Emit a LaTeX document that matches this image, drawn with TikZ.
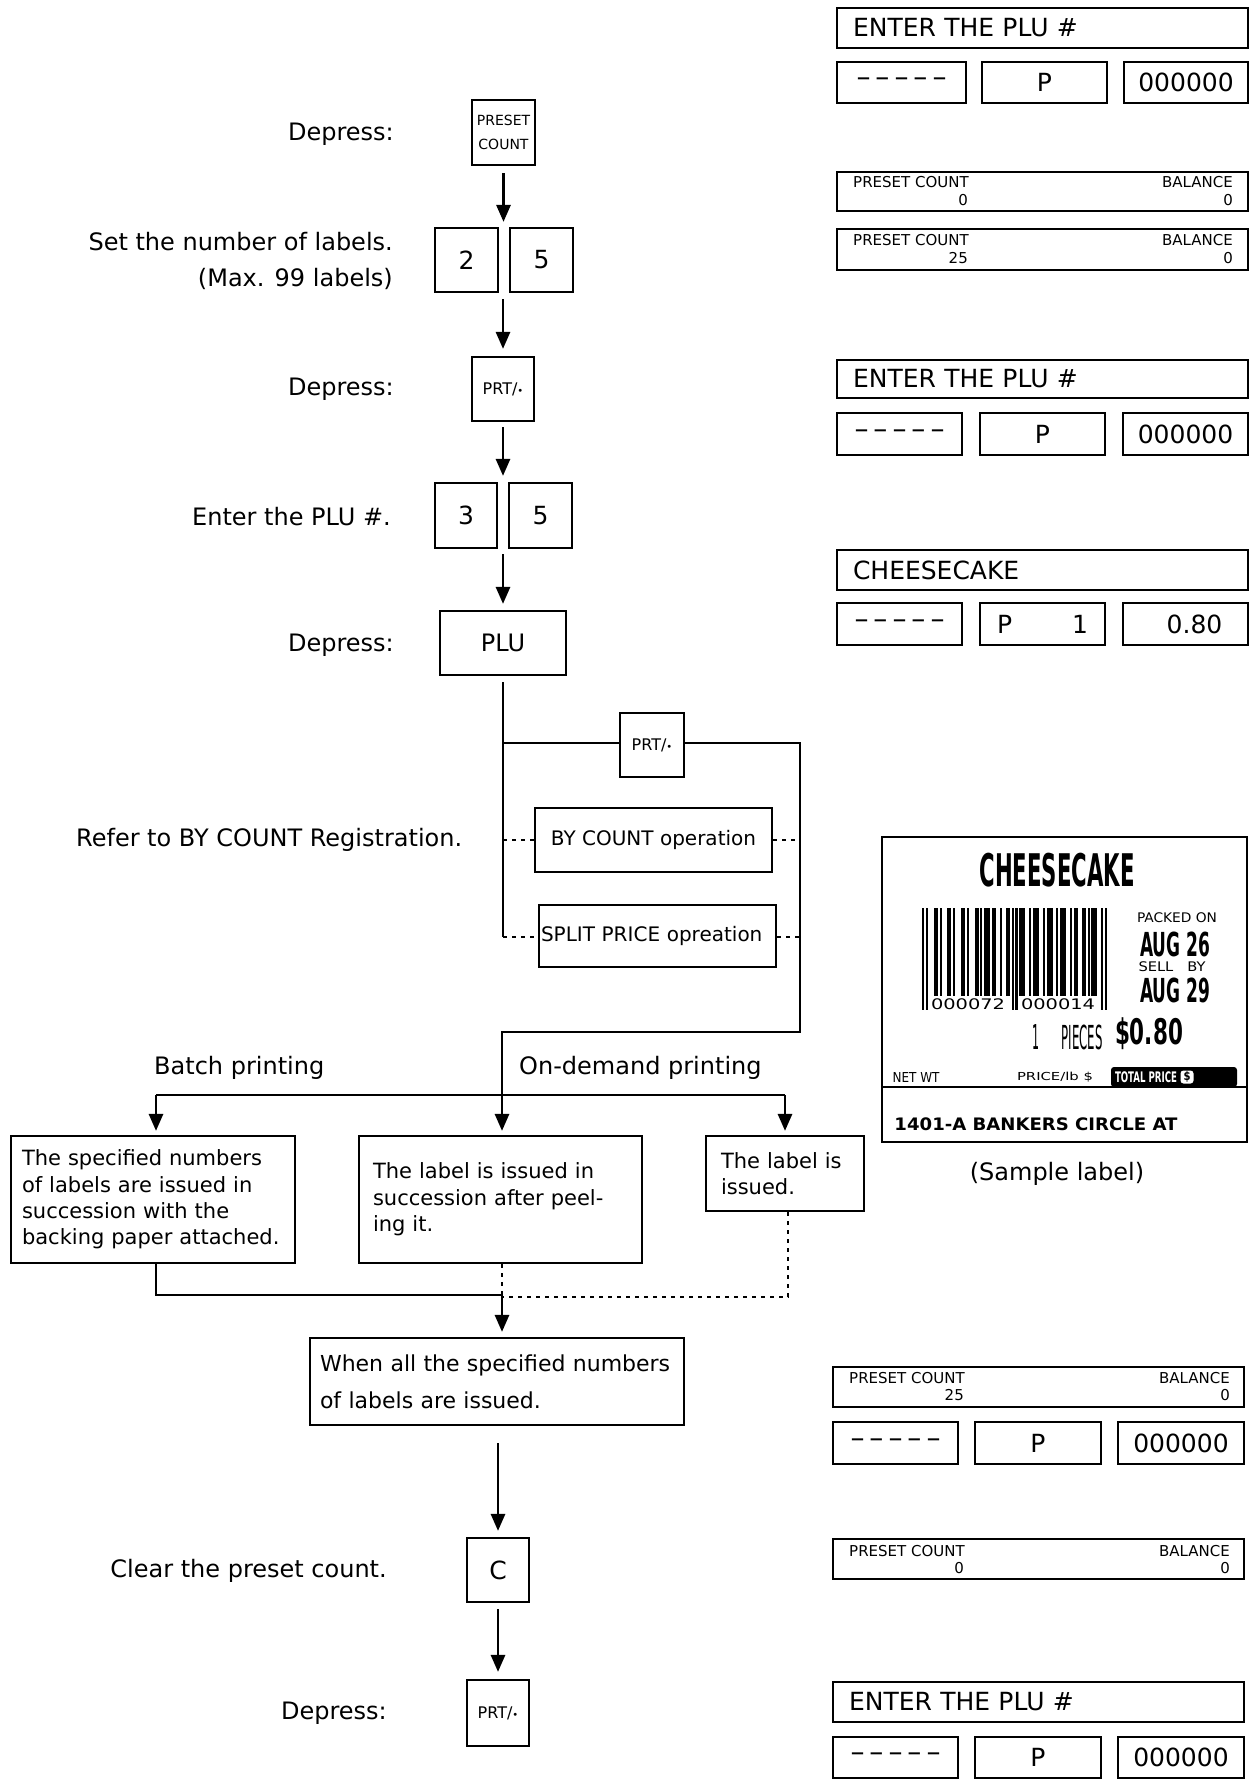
\documentclass[tikz,border=0pt]{standalone}
\usepackage{fontspec}
\usepackage{graphicx}
\setmainfont{DejaVu Sans}
\usetikzlibrary{arrows.meta,calc}
\newcommand\fsz[1]{\fontsize{#1}{#1}\selectfont}
\newcommand\fsl[2]{\fontsize{#1}{#2}\selectfont}
\newcommand\rsz[3]{\resizebox*{#1pt}{#2pt}{#3}}
\newcommand\dashrow{{\fsz{28}–\hspace{5pt}–\hspace{5pt}–\hspace{5pt}–\hspace{5pt}–}}
\tikzset{
  conn/.style={line width=2.8pt},
  arr/.style={line width=2.8pt,-{Triangle[length=17pt,width=14pt]}},
  dotl/.style={line width=2.4pt,dash pattern=on 4pt off 5pt},
  key/.style={draw,line width=2.2pt,inner sep=0pt},
  disp/.style={draw,line width=2.4pt,inner sep=0pt,font=\fsz{25}},
  txt/.style={inner sep=0pt,font=\fsz{24}},
  sm/.style={inner sep=0pt,font=\fsz{15}},
  flowbox/.style={draw,line width=2.2pt,inner ysep=0pt,align=left},
  lbl/.style={inner sep=0pt},
}
\begin{document}
\begin{tikzpicture}[x=1pt,y=-1pt]
\useasboundingbox (0,0) rectangle (1254,1779);

% ---------------- left flow: texts
\node[txt,anchor=east] (t1) at (394,134) {Depress:};
\node[txt,anchor=east,align=right,font=\fsl{24}{36}] (t2) at (393,261) {Set the number of labels.\\(Max. 99 labels)};
\node[txt,anchor=east] (t3) at (394,389) {Depress:};
\node[txt,anchor=east] (t4) at (391,517) {Enter the PLU \#.};
\node[txt,anchor=east] (t5) at (394,645) {Depress:};
\node[txt,anchor=west] (t6) at (76,840) {Refer to BY COUNT Registration.};
\node[txt,anchor=west] (t7) at (154,1068) {Batch printing};
\node[txt,anchor=west] (t8) at (519,1068) {On-demand printing};
\node[txt,anchor=east] (t9) at (387,1571) {Clear the preset count.};
\node[txt,anchor=east] (t10) at (387,1713) {Depress:};

% ---------------- keys
\node[key,minimum width=63pt,minimum height=65pt,align=center,font=\fsl{14}{24}] (kpc) at (503.5,132.5) {PRESET\\COUNT};
\node[key,minimum width=63pt,minimum height=64pt,font=\fsz{25}] (k2) at (466.5,260) {2};
\node[key,minimum width=63pt,minimum height=64pt,font=\fsz{25}] (k5a) at (541.5,260) {5};
\node[key,minimum width=62pt,minimum height=64pt,font=\fsz{16}] (prt1) at (503,389) {PRT/{\fsz{10}\textbullet}};
\node[key,minimum width=62pt,minimum height=65pt,font=\fsz{25}] (k3) at (466,515.5) {3};
\node[key,minimum width=63pt,minimum height=65pt,font=\fsz{25}] (k5b) at (540.5,515.5) {5};
\node[key,minimum width=126pt,minimum height=64pt,font=\fsz{24}] (plu) at (503,643) {PLU};
\node[key,minimum width=64pt,minimum height=64pt,font=\fsz{16}] (prt2) at (652,745) {PRT/{\fsz{10}\textbullet}};
\node[key,minimum width=237pt,minimum height=64pt,font=\fsz{20}] (byc) at (653.5,840) {BY COUNT operation};
\node[key,text width=233pt,inner xsep=2pt,minimum height=62pt,align=left,font=\fsz{20}] (spl) at (657.5,936) {SPLIT PRICE opreation};
\node[key,minimum width=62pt,minimum height=64pt,font=\fsz{25}] (kc) at (498,1570) {C};
\node[key,minimum width=62pt,minimum height=66pt,font=\fsz{16}] (prt3) at (498,1713) {PRT/{\fsz{10}\textbullet}};

% ---------------- result boxes
\node[flowbox,font=\fsl{21}{26.3},text width=262pt,inner xsep=11pt,minimum height=127pt] (bx1) at (153,1199.5) {The specified numbers\\of labels are issued in\\succession with the\\backing paper attached.};
\node[flowbox,font=\fsl{21}{26.5},text width=255pt,inner xsep=14pt,minimum height=127pt] (bx2) at (500.5,1199.5) {The label is issued in\\succession after peel-\\ing it.};
\node[flowbox,font=\fsl{21}{26},text width=128pt,inner xsep=15pt,minimum height=75pt] (bx3) at (785,1173.5) {The label is\\issued.};
\node[flowbox,font=\fsl{22}{37},text width=354pt,inner xsep=10pt,minimum height=87pt] (bw) at (497,1381.5) {When all the specified numbers\\of labels are issued.};

% ---------------- connector coordinates
\coordinate (cL) at (503,937);
\coordinate (c1) at (503,743);
\coordinate (c2) at (800,743);
\coordinate (c3) at (800,1032);
\coordinate (c4) at (502,1032);
\coordinate (c5) at (502,1095);
\coordinate (c6) at (156,1095);
\coordinate (c7) at (785,1095);
\coordinate (m1) at (156,1295);
\coordinate (m2) at (502,1295);
\coordinate (m3) at (788,1297);

% ---------------- connectors
\draw[arr,shorten <=7pt,shorten >=5pt] (kpc.south) -- (kpc.south |- k2.north);
\draw[arr,shorten <=6pt,shorten >=7pt] (prt1.north |- k2.south) -- (prt1.north);
\draw[arr,shorten <=5pt,shorten >=6pt] (prt1.south) -- (prt1.south |- k3.north);
\draw[arr,shorten <=5pt,shorten >=6pt] (plu.north |- k3.south) -- (plu.north);
\draw[conn,shorten <=6pt] (plu.south) -- (cL);
\draw[conn] (c1) -- (c1 -| prt2.west);
\draw[conn,line join=miter] (c2 -| prt2.east) -- (c2) -- (c3) -- (c4) -- (c5);
\draw[dotl] (c1 |- byc.west) -- (byc.west);
\draw[dotl] (byc.east) -- (c2 |- byc.east);
\draw[dotl] (cL) -- (spl.west |- cL);
\draw[dotl] (spl.east |- cL) -- (c2 |- cL);
\draw[conn] (c6) -- (c7);
\draw[arr,shorten >=4pt] (c6) -- (c6 |- bx1.north);
\draw[arr,shorten >=4pt] (c5) -- (c5 |- bx2.north);
\draw[arr,shorten >=4pt] (c7) -- (c7 |- bx3.north);
\draw[conn,line join=miter] (c6 |- bx1.south) -- (m1) -- (m2);
\draw[dotl] (m2 |- bx2.south) -- (m2);
\draw[dotl] (m3 |- bx3.south) -- (m3) -- (m2 |- m3);
\draw[arr,shorten >=5pt] (m2) -- (m2 |- bw.north);
\draw[arr,shorten <=17pt,shorten >=6pt] (kc.north |- bw.south) -- (kc.north);
\draw[arr,shorten <=6pt,shorten >=7pt] (kc.south) -- (prt3.north);

% ---------------- displays (right column)
\node[disp,text width=379pt,inner xsep=16pt,minimum height=40pt,align=left] (d1) at (1042.5,28) {ENTER THE PLU \#};
\node[disp,minimum width=129pt,minimum height=41pt] (d1a) at (901.5,82.5) {\dashrow};
\node[disp,minimum width=125pt,minimum height=41pt] (d1b) at (1044.5,82.5) {P};
\node[disp,minimum width=124pt,minimum height=41pt] (d1c) at (1186,82.5) {000000};

\node[disp,minimum width=411pt,minimum height=39pt] (d2) at (1042.5,191.5) {};
\node[sm,anchor=west] (d2p) at (853,182) {PRESET COUNT};
\node[sm,anchor=east] (d2v) at (968,200) {0};
\node[sm,anchor=east] (d2b) at (1233,182) {BALANCE};
\node[sm,anchor=east] (d2w) at (1233,200) {0};

\node[disp,minimum width=411pt,minimum height=41pt] (d3) at (1042.5,249.5) {};
\node[sm,anchor=west] (d3p) at (853,240) {PRESET COUNT};
\node[sm,anchor=east] (d3v) at (968,258) {25};
\node[sm,anchor=east] (d3b) at (1233,240) {BALANCE};
\node[sm,anchor=east] (d3w) at (1233,258) {0};

\node[disp,text width=379pt,inner xsep=16pt,minimum height=38pt,align=left] (d4) at (1042.5,379) {ENTER THE PLU \#};
\node[disp,minimum width=125pt,minimum height=42pt] (d4a) at (899.5,434) {\dashrow};
\node[disp,minimum width=125pt,minimum height=42pt] (d4b) at (1042.5,434) {P};
\node[disp,minimum width=125pt,minimum height=42pt] (d4c) at (1185.5,434) {000000};

\node[disp,text width=379pt,inner xsep=16pt,minimum height=40pt,align=left] (d5) at (1042.5,570) {CHEESECAKE};
\node[disp,minimum width=125pt,minimum height=42pt] (d5a) at (899.5,624) {\dashrow};
\node[disp,minimum width=125pt,minimum height=42pt] (d5b) at (1042.5,624) {P\hspace{60pt}1};
\node[disp,minimum width=125pt,minimum height=42pt] (d5c) at (1185.5,624) {\hspace{18pt}0.80};

\node[disp,minimum width=411pt,minimum height=40pt] (d6) at (1038.5,1387) {};
\node[sm,anchor=west] (d6p) at (849,1378) {PRESET COUNT};
\node[sm,anchor=east] (d6v) at (964,1395) {25};
\node[sm,anchor=east] (d6b) at (1230,1378) {BALANCE};
\node[sm,anchor=east] (d6w) at (1230,1395) {0};
\node[disp,minimum width=125pt,minimum height=42pt] (d6a) at (895.5,1443) {\dashrow};
\node[disp,minimum width=126pt,minimum height=42pt] (d6bx) at (1038,1443) {P};
\node[disp,minimum width=126pt,minimum height=42pt] (d6c) at (1181,1443) {000000};

\node[disp,minimum width=411pt,minimum height=40pt] (d7) at (1038.5,1559) {};
\node[sm,anchor=west] (d7p) at (849,1551) {PRESET COUNT};
\node[sm,anchor=east] (d7v) at (964,1568) {0};
\node[sm,anchor=east] (d7b) at (1230,1551) {BALANCE};
\node[sm,anchor=east] (d7w) at (1230,1568) {0};

\node[disp,text width=379pt,inner xsep=16pt,minimum height=40pt,align=left] (d8) at (1038.5,1702) {ENTER THE PLU \#};
\node[disp,minimum width=125pt,minimum height=41pt] (d8a) at (895.5,1757.5) {\dashrow};
\node[disp,minimum width=126pt,minimum height=41pt] (d8b) at (1038,1757.5) {P};
\node[disp,minimum width=126pt,minimum height=41pt] (d8c) at (1181,1757.5) {000000};

% ---------------- sample label
\node[draw,line width=2.2pt,minimum width=365pt,minimum height=305pt,inner sep=0pt] (lab) at (1064.5,989.5) {};
\coordinate (sepy) at (0,1087);
\draw[line width=2.2pt] (lab.west |- sepy) -- (lab.east |- sepy);
\node[lbl] (lname) at (1057,870) {\rsz{155}{34}{\bfseries CHEESECAKE}};
\foreach \b [count=\i] in {1,0,1,
  0,0,0,1,1,0,1, 0,0,0,1,1,0,1, 0,0,0,1,1,0,1, 0,0,0,1,1,0,1, 0,1,1,1,0,1,1, 0,0,1,0,0,1,1,
  0,1,0,1,0,
  1,1,1,0,0,1,0, 1,1,1,0,0,1,0, 1,1,1,0,0,1,0, 1,1,1,0,0,1,0, 1,1,0,0,1,1,0, 1,0,1,1,1,0,0,
  1,0,1}{
  \pgfmathsetmacro\yb{((\i<4)||((\i>45)&&(\i<51))||(\i>92)) ? 1010 : 996}
  \ifnum\b=1 \fill (922+\i*1.947-1.947,908) rectangle (922+\i*1.947+0.1,\yb); \fi
}
\node[lbl] (bcl) at (968,1004) {\rsz{74}{11}{000072}};
\node[lbl] (bcr) at (1058,1004) {\rsz{74}{11}{000014}};
\node[lbl] (pk) at (1177,918) {\rsz{80}{10}{PACKED ON}};
\node[lbl] (ag1) at (1175,944) {\rsz{70}{25}{\bfseries AUG 26}};
\node[lbl] (sb) at (1172,967) {\rsz{67}{10}{SELL\ \ \ BY}};
\node[lbl] (ag2) at (1175,990) {\rsz{70}{25}{\bfseries AUG 29}};
\node[lbl] (pc1) at (1036,1037) {\rsz{7}{25}{1}};
\node[lbl] (pcs) at (1082,1037) {\rsz{41}{25}{PIECES}};
\node[lbl] (pr) at (1149,1034) {\rsz{68}{32}{\bfseries \$0.80}};
\node[lbl] (nw) at (916,1077) {\rsz{47}{10}{NET WT}};
\node[lbl] (plb) at (1055,1077) {\rsz{76}{10}{PRICE/lb \$}};
\node[fill=black,rounded corners=3pt,minimum width=126pt,minimum height=20pt,inner sep=0pt] (tp) at (1174,1077) {};
\node[lbl,text=white] (tpt) at (1146,1077) {\rsz{62}{11}{\bfseries TOTAL PRICE}};
\node[fill=white,rounded corners=3pt,minimum width=13pt,minimum height=13pt,inner sep=0pt] (tps) at (1187,1077) {\rsz{7}{11}{\bfseries \$}};
\node[lbl] (addr) at (1036,1124) {\rsz{283}{13}{\bfseries 1401-A BANKERS CIRCLE AT}};
\node[lbl,font=\fsz{24}] (samp) at (1057,1174) {(Sample label)};
\end{tikzpicture}
\end{document}
